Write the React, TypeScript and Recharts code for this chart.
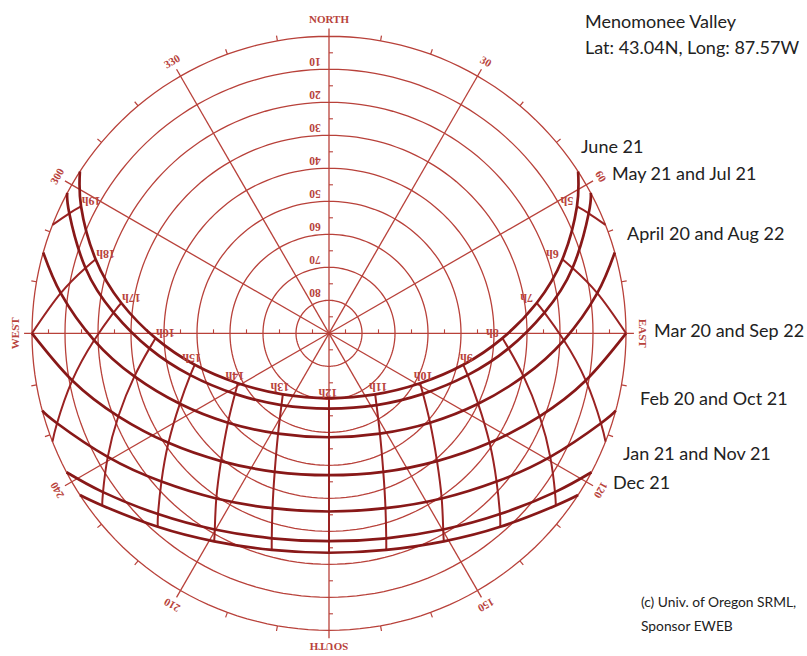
import React from 'react';
import { LineChart, Line, XAxis, YAxis, ReferenceDot } from 'recharts';

const W = 807;
const H = 656;

// ---- grid definitions ----
const ringAltitudes = [0, 10, 20, 30, 40, 50, 60, 70, 80];
const altitudeLabelValues = [10, 20, 30, 40, 50, 60, 70, 80];
const spokeAzimuths = [0, 30, 60, 90, 120, 150, 180, 210, 240, 270, 300, 330];
const spokeLabels = ['NORTH', '30', '60', 'EAST', '120', '150', 'SOUTH', '210', '240', 'WEST', '300', '330'];
const rimTickAzimuths = [10, 20, 40, 50, 70, 80, 100, 110, 130, 140, 160, 170, 190, 200, 220, 230, 250, 260, 280, 290, 310, 320, 340, 350];
const axisTickAltitudes = [85, 75, 65, 55, 45, 35, 25, 15, 5];

// ---- sun paths: [solar hour, azimuth (deg from N), altitude (deg)] ----
const june21 = [[4.41, 57.0, 0], [5, 62.9, 5.6], [6, 72.4, 15.8], [7, 81.7, 26.4], [8, 91.6, 37.4], [9, 103.2, 48.2], [10, 118.7, 58.5], [11, 142.9, 66.8], [12, 180, 70.4], [13, 217.1, 66.8], [14, 241.3, 58.5], [15, 256.8, 48.2], [16, 268.4, 37.4], [17, 278.3, 26.4], [18, 287.6, 15.8], [19, 297.1, 5.6], [19.59, 303.0, 0]];
const may21jul21 = [[4.66, 61.8, 0], [5, 65.2, 3.3], [6, 75.0, 13.6], [7, 84.5, 24.4], [8, 94.8, 35.4], [9, 106.8, 46.1], [10, 122.8, 56.1], [11, 146.5, 63.9], [12, 180, 67.2], [13, 213.5, 63.9], [14, 237.2, 56.1], [15, 253.2, 46.1], [16, 265.2, 35.4], [17, 275.5, 24.4], [18, 285.0, 13.6], [19, 294.8, 3.3], [19.34, 298.2, 0]];
const apr20aug22 = [[5.27, 74.2, 0], [6, 81.5, 7.8], [7, 91.7, 18.8], [8, 102.5, 29.6], [9, 115.3, 40.0], [10, 131.5, 49.1], [11, 153.1, 55.9], [12, 180, 58.5], [13, 206.9, 55.9], [14, 228.5, 49.1], [15, 244.7, 40.0], [16, 257.5, 29.6], [17, 268.3, 18.8], [18, 278.5, 7.8], [18.73, 285.8, 0]];
const mar20sep22 = [[6, 90, 0], [7, 100.4, 10.9], [8, 111.5, 21.4], [9, 124.3, 31.1], [10, 139.8, 39.3], [11, 158.6, 44.9], [12, 180, 47.0], [13, 201.4, 44.9], [14, 220.2, 39.3], [15, 235.7, 31.1], [16, 248.5, 21.4], [17, 259.6, 10.9], [18, 270, 0]];
const feb20oct21 = [[6.7, 105.1, 0], [7, 108.3, 3.2], [8, 119.2, 13.2], [9, 131.5, 22.2], [10, 145.7, 29.4], [11, 162.1, 34.3], [12, 180, 36.0], [13, 197.9, 34.3], [14, 214.3, 29.4], [15, 228.5, 22.2], [16, 240.8, 13.2], [17, 251.7, 3.2], [17.3, 254.9, 0]];
const jan21nov21 = [[7.33, 117.9, 0], [8, 125.1, 6.3], [9, 136.6, 14.6], [10, 149.8, 21.2], [11, 164.4, 25.5], [12, 180, 27.0], [13, 195.6, 25.5], [14, 210.2, 21.2], [15, 223.4, 14.6], [16, 234.9, 6.3], [16.67, 242.1, 0]];
const dec21 = [[7.59, 123.0, 0], [8, 127.2, 3.7], [9, 138.5, 11.7], [10, 151.1, 18.0], [11, 165.2, 22.1], [12, 180, 23.5], [13, 194.8, 22.1], [14, 208.9, 18.0], [15, 221.5, 11.7], [16, 232.8, 3.7], [16.41, 237.0, 0]];

const datePaths = [june21, may21jul21, apr20aug22, mar20sep22, feb20oct21, jan21nov21, dec21];
const dateNames = ['June 21', 'May 21 and Jul 21', 'April 20 and Aug 22', 'Mar 20 and Sep 22', 'Feb 20 and Oct 21', 'Jan 21 and Nov 21', 'Dec 21'];

const hours = [5, 6, 7, 8, 9, 10, 11, 12, 13, 14, 15, 16, 17, 18, 19];
// where an hour line meets the horizon between two date curves: [hour, azimuth]
const hourLineHorizonEnds = [[5, 68.6], [7, 111.4], [17, 248.6], [19, 291.4]];

const titleLines = ['Menomonee Valley', 'Lat: 43.04N, Long: 87.57W'];
const creditLines = ['(c) Univ. of Oregon SRML,', 'Sponsor EWEB'];

// ---- helpers ----
const rad = Math.PI / 180;
const toXY = (az: number, alt: number) => ({
  x: (90 - alt) * Math.sin(az * rad),
  y: (90 - alt) * Math.cos(az * rad),
});
const polar = (az: number, r: number) => ({ x: r * Math.sin(az * rad), y: r * Math.cos(az * rad) });

const GRID = '#b8413a';
const HOURLINE = '#9a2222';
const PATH = '#881818';
const LABEL = '#b8433c';

const ringAz: number[] = [];
for (let a = 0; a <= 360; a += 2) ringAz.push(a);

const ringData = ringAltitudes.map((alt) => ringAz.map((a) => toXY(a, alt)));
const spokeData = spokeAzimuths.map((az) => [polar(az, 0), polar(az, 92.4)]);
const rimTickData = rimTickAzimuths.map((az) => [polar(az, 90), polar(az, 91.6)]);
const axisTickData: { x: number; y: number }[][] = [];
axisTickAltitudes.forEach((alt) => {
  const r = 90 - alt;
  axisTickData.push([{ x: 0, y: r }, { x: 1.2, y: r }]);
  axisTickData.push([{ x: 0, y: -r }, { x: 1.2, y: -r }]);
  axisTickData.push([{ x: r, y: 0 }, { x: r, y: 1.2 }]);
  axisTickData.push([{ x: -r, y: 0 }, { x: -r, y: 1.2 }]);
});

const pathData = datePaths.map((p) => p.map((pt) => toXY(pt[1], pt[2])));

const hourLineData = hours.map((h) => {
  const pts: { x: number; y: number }[] = [];
  datePaths.forEach((p) => {
    const f = p.find((pt) => pt[0] === h);
    if (f) pts.push(toXY(f[1], f[2]));
  });
  const end = hourLineHorizonEnds.find((e) => e[0] === h);
  if (end) pts.push(toXY(end[1], 0));
  return pts;
});

const hourLabelPts = june21.filter((pt) => hours.includes(pt[0]));

const hourLabelOffset = (h: number) => {
  const d = h - 12;
  if (d === 0) return [-1, -5];
  const s = Math.sign(d);
  if (Math.abs(d) >= 4) return [10 * s, -5];
  return [-3 * s, -7];
};

const RotText = (props: any) => {
  const { cx, cy, text, rot = 0, dx = 0, dy = 0, size = 11 } = props;
  const x = cx + dx;
  const y = cy + dy;
  return (
    <text
      x={x}
      y={y}
      transform={`rotate(${rot} ${x} ${y})`}
      textAnchor="middle"
      dominantBaseline="central"
      fontFamily="'Liberation Serif', 'DejaVu Serif', serif"
      fontWeight="bold"
      fontSize={size}
      fill={LABEL}
    >
      {text}
    </text>
  );
};

const lineProps = {
  dataKey: 'y',
  dot: false,
  activeDot: false,
  isAnimationActive: false,
  legendType: 'none' as const,
};

const rightLabels = [
  { t: dateNames[0], x: 581, y: 153 },
  { t: dateNames[1], x: 612, y: 180 },
  { t: dateNames[2], x: 627, y: 240 },
  { t: dateNames[3], x: 654, y: 337 },
  { t: dateNames[4], x: 640, y: 405 },
  { t: dateNames[5], x: 623, y: 460 },
  { t: dateNames[6], x: 613, y: 489 },
];

export default function App() {
  const span = 97;
  const unit = 3.3;
  const plot = span * 2 * unit;
  const cx = 329;
  const cy = 333.3;
  const margin = {
    left: cx - span * unit,
    top: cy - span * unit,
    right: W - (cx - span * unit) - plot,
    bottom: H - (cy - span * unit) - plot,
  };
  return (
    <div style={{ position: 'absolute', left: 0, top: 0, width: W, height: H, background: '#fff' }}>
      <LineChart width={W} height={H} margin={margin}>
        <XAxis type="number" dataKey="x" domain={[-span, span]} hide />
        <YAxis type="number" dataKey="y" domain={[-span, span]} hide />
        {ringData.map((d, i) => (
          <Line key={`ring${i}`} {...lineProps} data={d} type="linear" stroke={GRID} strokeWidth={1.3} />
        ))}
        {spokeData.map((d, i) => (
          <Line key={`spoke${i}`} {...lineProps} data={d} type="linear" stroke={GRID} strokeWidth={1.3} />
        ))}
        {rimTickData.map((d, i) => (
          <Line key={`rt${i}`} {...lineProps} data={d} type="linear" stroke={GRID} strokeWidth={1.2} />
        ))}
        {axisTickData.map((d, i) => (
          <Line key={`at${i}`} {...lineProps} data={d} type="linear" stroke={GRID} strokeWidth={1.1} />
        ))}
        {hourLineData.map((d, i) => (
          <Line key={`hl${i}`} {...lineProps} data={d} type="natural" stroke={HOURLINE} strokeWidth={2} />
        ))}
        {pathData.map((d, i) => (
          <Line key={`dp${i}`} {...lineProps} data={d} type="natural" stroke={PATH} strokeWidth={2.7} />
        ))}
        {spokeAzimuths.map((az, i) => {
          const p = polar(az, 95.2);
          return (
            <ReferenceDot
              key={`sl${i}`}
              x={p.x}
              y={p.y}
              r={0}
              ifOverflow="visible"
              shape={(sp: any) => <RotText cx={sp.cx} cy={sp.cy} text={spokeLabels[i]} rot={az} size={11} />}
            />
          );
        })}
        {altitudeLabelValues.map((alt, i) => (
          <ReferenceDot
            key={`al${i}`}
            x={0}
            y={90 - alt}
            r={0}
            ifOverflow="visible"
            shape={(sp: any) => <RotText cx={sp.cx} cy={sp.cy} text={String(alt)} rot={180} dx={-14} dy={-7} size={11.5} />}
          />
        ))}
        {hourLabelPts.map((pt, i) => {
          const p = toXY(pt[1], pt[2]);
          const [dx, dy] = hourLabelOffset(pt[0]);
          return (
            <ReferenceDot
              key={`hlab${i}`}
              x={p.x}
              y={p.y}
              r={0}
              ifOverflow="visible"
              shape={(sp: any) => <RotText cx={sp.cx} cy={sp.cy} text={`${pt[0]}h`} rot={180} dx={dx} dy={dy} size={12} />}
            />
          );
        })}
      </LineChart>
      <svg width={W} height={H} style={{ position: 'absolute', left: 0, top: 0, pointerEvents: 'none' }}>
        <g fontFamily="Lato, 'Open Sans', sans-serif" fill="#222">
          <text x={585} y={28} fontSize={18}>{titleLines[0]}</text>
          <text x={585} y={54} fontSize={18}>{titleLines[1]}</text>
          {rightLabels.map((l, i) => (
            <text key={i} x={l.x} y={l.y} fontSize={18}>{l.t}</text>
          ))}
          <text x={641} y={607} fontSize={13.8}>{creditLines[0]}</text>
          <text x={641} y={631} fontSize={13.8}>{creditLines[1]}</text>
        </g>
      </svg>
    </div>
  );
}
